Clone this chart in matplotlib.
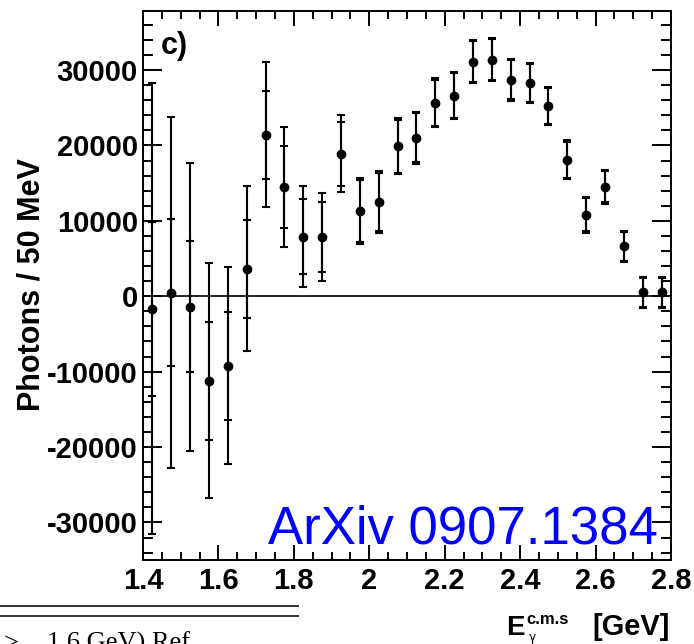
import matplotlib
matplotlib.use("Agg")
import matplotlib.pyplot as plt
from matplotlib.lines import Line2D
from matplotlib.ticker import MultipleLocator, FixedLocator

plt.rcParams['axes.unicode_minus'] = False

# ---- data ----
energy = [1.425, 1.475, 1.525, 1.575, 1.625, 1.675, 1.725, 1.775, 1.825, 1.875,
          1.925, 1.975, 2.025, 2.075, 2.125, 2.175, 2.225, 2.275, 2.325, 2.375,
          2.425, 2.475, 2.525, 2.575, 2.625, 2.675, 2.725, 2.775]
photons = [-1660, 460, -1390, -11220, -9220, 3650, 21440, 14540, 7900, 7900,
           18920, 11350, 12500, 19890, 21040, 25650, 26620, 31130, 31390, 28740,
           28300, 25200, 18120, 10820, 14500, 6610, 500, 500]
total_err = [29900, 23300, 19100, 15600, 13080, 10950, 9560, 7960, 6700, 5840,
             5100, 4380, 4140, 3720, 3450, 3230, 3170, 2860, 2860, 2790,
             2660, 2550, 2540, 2390, 2210, 2080, 2100, 2030]
stat_err = [11550, 9760, 8700, 7830, 7170, 6500, 5840, 5440, 4980, 4650,
            4250, 4100, 3900, 3500, 3250, 3050, 3000, 2700, 2700, 2600,
            2480, 2380, 2380, 2230, 2060, 1930, 1950, 1880]

x_ticks = [1.4, 1.6, 1.8, 2.0, 2.2, 2.4, 2.6, 2.8]
x_ticklabels = ["1.4", "1.6", "1.8", "2", "2.2", "2.4", "2.6", "2.8"]
y_ticks = [-30000, -20000, -10000, 0, 10000, 20000, 30000]
y_ticklabels = ["-30000", "-20000", "-10000", "0", "10000", "20000", "30000"]

W, H = 694, 644
def fx(px):
    return px / W
def fy(py):
    return 1 - py / H

fig = plt.figure(figsize=(W / 100, H / 100), dpi=100)
ax = fig.add_axes([fx(143), fy(560), (671 - 143) / W, (560 - 11) / H])

ax.set_xlim(1.4, 2.8)
ax.set_ylim(-34980, 37830)

# zero line
ax.axhline(0, color='black', lw=1.2, zorder=1)

# total errors
ax.errorbar(energy, photons, yerr=total_err, fmt='none', ecolor='black',
            elinewidth=1.5, capsize=3, capthick=1.5, zorder=2)
# statistical errors (inner ticks)
ax.errorbar(energy, photons, yerr=stat_err, fmt='none', ecolor='black',
            elinewidth=1.5, capsize=3, capthick=1.5, zorder=2)
ax.plot(energy, photons, 'o', color='black', markersize=6, zorder=3)

# ticks
ax.xaxis.set_major_locator(FixedLocator(x_ticks))
ax.set_xticklabels(x_ticklabels)
ax.xaxis.set_minor_locator(MultipleLocator(0.05))
ax.yaxis.set_major_locator(FixedLocator(y_ticks))
ax.set_yticklabels(y_ticklabels)
ax.yaxis.set_minor_locator(MultipleLocator(2000))

lab_font = dict(family='Liberation Sans', weight='bold', size=21)
for lbl in ax.get_xticklabels() + ax.get_yticklabels():
    lbl.set_fontproperties(matplotlib.font_manager.FontProperties(**lab_font))

ax.tick_params(axis='both', which='both', direction='in', top=True, right=True,
               width=1.4, color='black')
ax.tick_params(axis='x', which='major', length=11, pad=5)
ax.tick_params(axis='x', which='minor', length=5.8)
ax.tick_params(axis='y', which='major', length=13.5, pad=3.6)
ax.tick_params(axis='y', which='minor', length=7.2)
for s in ax.spines.values():
    s.set_linewidth(1.4)

# y label
fig.text(fx(32), fy(285), "Photons / 50 MeV", rotation=90, ha='center', va='center',
         family='Liberation Sans', weight='bold', size=22)

# x label pieces
fig.text(fx(506), fy(635), "E", ha='left', va='baseline',
         family='Liberation Sans', weight='bold', size=20)
fig.text(fx(526), fy(612), "c.m.s", ha='left', va='top',
         family='Liberation Sans', weight='bold', size=12)
fig.text(fx(529), fy(631), "γ", ha='left', va='top',
         family='DejaVu Sans', size=8.5)
fig.text(fx(670), fy(635), "[GeV]", ha='right', va='baseline',
         family='Liberation Sans', weight='bold', size=21)

# panel tag
fig.text(fx(161), fy(46), "c)", ha='left', va='center',
         family='Liberation Sans', weight='bold', size=22)

# watermark
fig.text(fx(658), fy(543), "ArXiv 0907.1384", ha='right', va='baseline',
         family='Liberation Sans', size=38, color='#0000ff')

# paper remnants below (cropped in the reference as well)
fig.add_artist(Line2D([0, fx(298)], [fy(606), fy(606)], color='#333333', lw=1.4))
fig.add_artist(Line2D([0, fx(298)], [fy(616), fy(616)], color='#333333', lw=1.4))
fig.text(fx(4), fy(650), ">", ha='left', va='baseline',
         family='Liberation Serif', size=19)
fig.text(fx(47), fy(650), "1.6 GeV) Ref", ha='left', va='baseline',
         family='Liberation Serif', size=19)

fig.savefig("out.png", dpi=100)
